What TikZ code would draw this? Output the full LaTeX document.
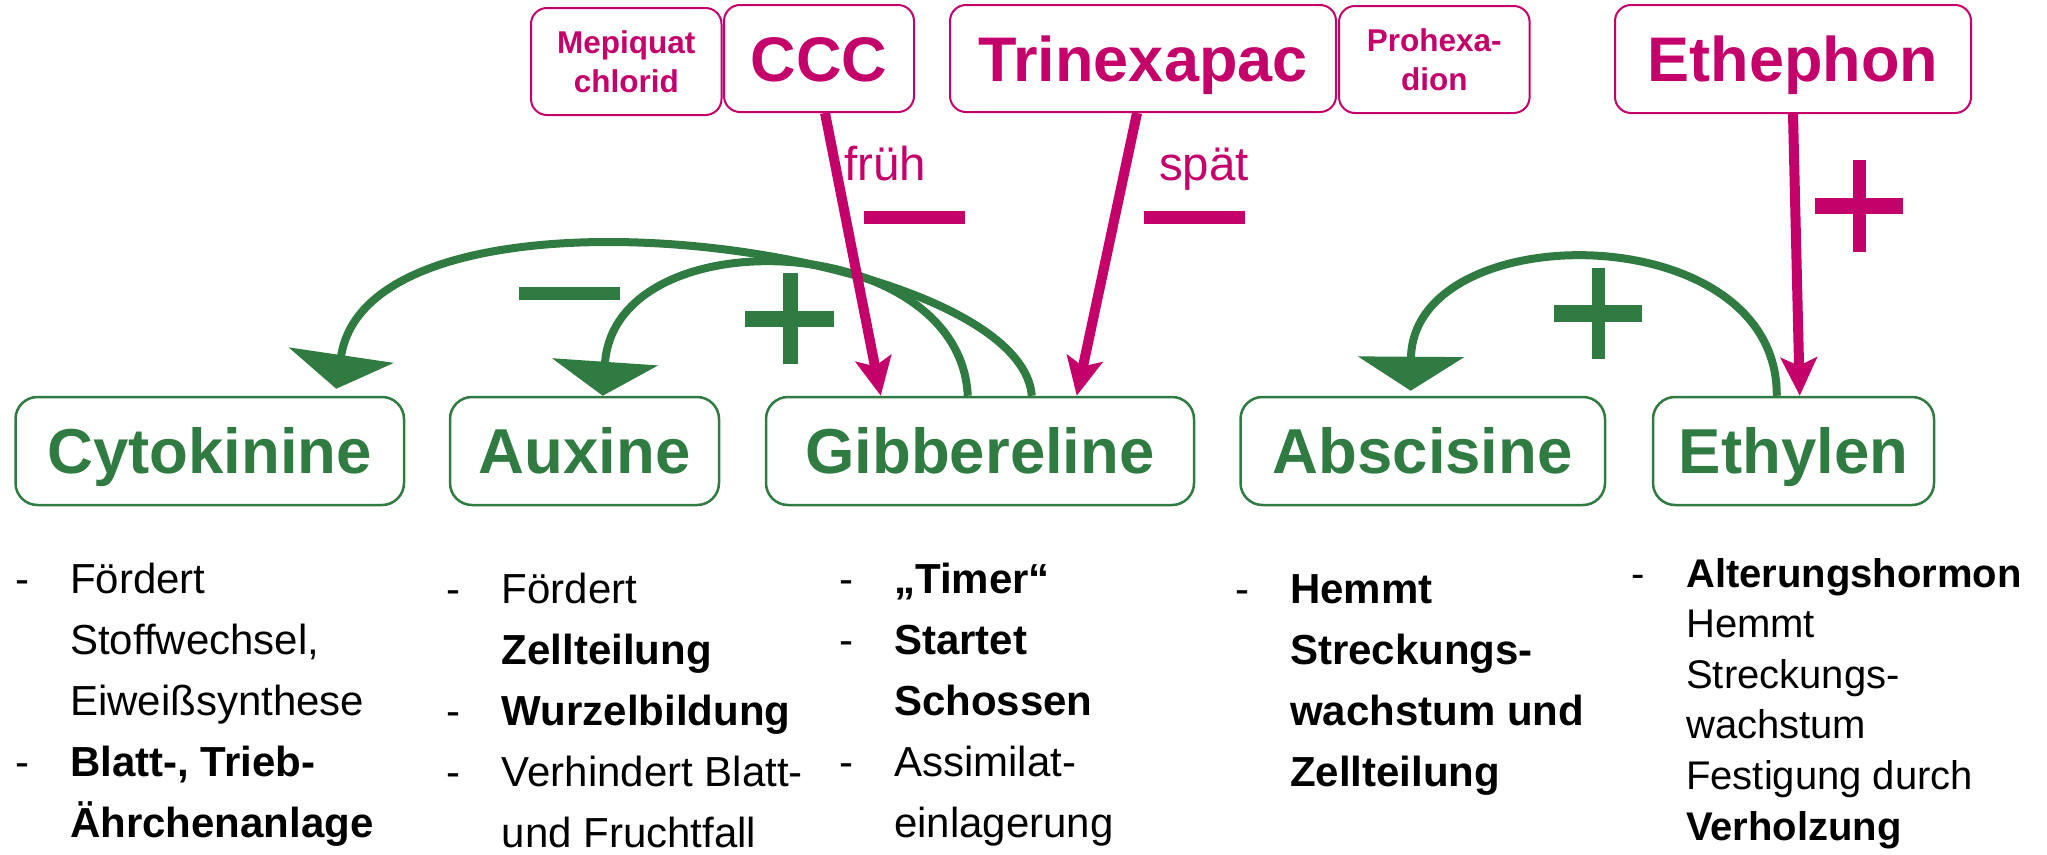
\documentclass[tikz,border=0pt]{standalone}
\usepackage{fontspec}
\setmainfont{Liberation Sans}
\usetikzlibrary{arrows.meta}
\definecolor{mag}{RGB}{196,0,106}
\definecolor{grn}{RGB}{47,123,66}
\newcommand\mydash{\makebox[55pt][l]{-}}
\tikzset{
  agent/.style={draw=mag, line width=2pt, rounded corners=16pt, text=mag, inner sep=0pt, align=center},
  bigagent/.style={agent, font=\fontsize{63}{70}\selectfont\bfseries, text height=45pt, text depth=0pt},
  smallagent/.style={agent, font=\fontsize{31.5}{39}\selectfont\bfseries},
  hormone/.style={draw=grn, line width=2.5pt, rounded corners=22pt, text=grn, inner sep=0pt,
    font=\fontsize{63.5}{70}\selectfont\bfseries, minimum height=108pt, text height=45.5pt, text depth=0pt},
  magarrow/.style={draw=mag, line width=10pt, -{Stealth[length=38pt,width=36pt,inset=8pt]}},
  grnarrow/.style={draw=grn, line width=8pt, -{Triangle[length=34pt,width=105pt]}},
  lbl/.style={text=mag, font=\fontsize{47.5}{55}\selectfont, inner sep=0pt, anchor=base west},
  desc/.style={inner sep=0pt, anchor=base west, align=left},
}
\begin{document}
\begin{tikzpicture}[x=1pt,y=-1pt]
\useasboundingbox (0,0) rectangle (2047,854);

% top agents
\node[smallagent, minimum width=190.5pt, minimum height=107pt] (mep) at (626.25,61.5) {Mepiquat\\chlorid};
\node[bigagent, minimum width=190pt, minimum height=107pt] (ccc) at (819,58.5) {CCC};
\node[bigagent, minimum width=386pt, minimum height=107pt] (tri) at (1143,58.5) {Trinexapac};
\node[smallagent, minimum width=190.6pt, minimum height=107pt] (pro) at (1434.3,59.5) {Prohexa-\\dion};
\node[bigagent, minimum width=356pt, minimum height=108pt] (eth) at (1793,59) {Ethephon};

% hormones
\node[hormone, minimum width=388.5pt] (cyt) at (209.75,451) {Cytokinine};
\node[hormone, minimum width=269pt] (aux) at (584.5,451) {Auxine};
\node[hormone, minimum width=428pt] (gib) at (980,451) {Gibbereline};
\node[hormone, minimum width=364.5pt] (abs) at (1422.75,451) {Abscisine};
\node[hormone, minimum width=281pt] (ethy) at (1793.5,451) {Ethylen};

% green curved arrows
\draw[grnarrow] ([xshift=267pt]gib.north west) .. controls (1020,245) and (370,160) .. ([xshift=322pt,yshift=7pt]cyt.north west);
\draw[grnarrow] ([xshift=203pt]gib.north west) .. controls (960,230) and (615,215) .. ([xshift=154pt]aux.north west);
\draw[grnarrow] ([xshift=125pt]ethy.north west) .. controls (1778,215) and (1412,215) .. ([xshift=171.5pt,yshift=5pt]abs.north west);

% magenta arrows
\draw[magarrow] ([xshift=6pt]ccc.south) -- ([xshift=116pt]gib.north west);
\draw[magarrow] ([xshift=-6pt]tri.south) -- ([xshift=312pt]gib.north west);
\draw[magarrow] (eth.south) -- ([xshift=148pt]ethy.north west);

% labels
\node[lbl] (frueh) at (844,180) {früh};
\node[lbl] (spaet) at (1159,180) {spät};

% signs
\fill[mag] (864,211) rectangle (965,224);
\fill[mag] (1143.5,211) rectangle (1245,224);
\fill[mag] (1852.6,160) rectangle (1865.5,251.7);
\fill[mag] (1814.5,197.7) rectangle (1902.7,214);
\fill[grn] (519,287) rectangle (620,300);
\fill[grn] (782.8,273) rectangle (798,364);
\fill[grn] (744.5,310.7) rectangle (833.8,326.7);
\fill[grn] (1591.6,267.7) rectangle (1605,359.3);
\fill[grn] (1554,305) rectangle (1642,321.7);

% descriptions
\node[desc, font=\fontsize{42}{61}\selectfont] (d1) at (15,593) {\begin{tabular}[t]{@{}l@{}l@{}}
\mydash & Fördert\\
 & Stoffwechsel,\\
 & Eiweißsynthese\\
\mydash & \textbf{Blatt-, Trieb-}\\
 & \textbf{Ährchenanlage}
\end{tabular}};
\node[desc, font=\fontsize{42}{61}\selectfont] (d2) at (446.6,603) {\begin{tabular}[t]{@{}l@{}l@{}}
\mydash & Fördert\\
 & \textbf{Zellteilung}\\
\mydash & \textbf{Wurzelbildung}\\
\mydash & Verhindert Blatt-\\
 & und Fruchtfall
\end{tabular}};
\node[desc, font=\fontsize{42}{61}\selectfont] (d3) at (839,593) {\begin{tabular}[t]{@{}l@{}l@{}}
\mydash & \textbf{„Timer“}\\
\mydash & \textbf{Startet}\\
 & \textbf{Schossen}\\
\mydash & Assimilat-\\
 & einlagerung
\end{tabular}};
\node[desc, font=\fontsize{42}{61}\selectfont] (d4) at (1235,603) {\begin{tabular}[t]{@{}l@{}l@{}}
\mydash & \textbf{Hemmt}\\
 & \textbf{Streckungs-}\\
 & \textbf{wachstum und}\\
 & \textbf{Zellteilung}
\end{tabular}};
\node[desc, font=\fontsize{40}{50.6}\selectfont] (d5) at (1631,587) {\begin{tabular}[t]{@{}l@{}l@{}}
\mydash & \textbf{Alterungshormon}\\
 & Hemmt\\
 & Streckungs-\\
 & wachstum\\
 & Festigung durch\\
 & \textbf{Verholzung}
\end{tabular}};
\end{tikzpicture}
\end{document}
